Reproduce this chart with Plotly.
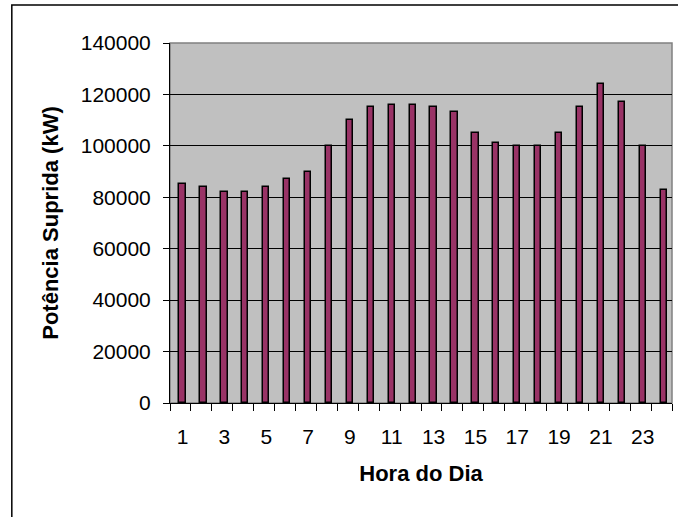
import plotly.graph_objects as go

horas = list(range(1, 25))
potencia = [85000, 84000, 82000, 82000, 84000, 87000, 90000, 100000,
            110000, 115000, 116000, 116000, 115000, 113000, 105000, 101000,
            100000, 100000, 105000, 115000, 124000, 117000, 100000, 83000]
x_tick_labels = [str(h) for h in range(1, 24, 2)]
y_ticks = list(range(0, 140001, 20000))

W, H = 678, 517
L, R, T, B = 169.5, 5.5, 43, 114
pw, ph = W - L - R, H - T - B
shift = 0.1  # Excel draws bars/labels slightly right of the category centre

fig = go.Figure()
fig.add_trace(go.Bar(
    x=horas, y=potencia, width=0.3, offset=-0.15 + shift,
    marker=dict(color="#993366", line=dict(color="#000000", width=1.5)),
))

font = dict(family="Liberation Sans, Arial, sans-serif", size=21, color="#000000")

fig.update_layout(
    width=W, height=H,
    margin=dict(l=L, r=R, t=T, b=B, pad=0, autoexpand=False),
    paper_bgcolor="#FFFFFF", plot_bgcolor="#C0C0C0",
    font=font, showlegend=False, bargap=0,
    xaxis=dict(
        range=[0.5, 24.5], tickmode="array",
        tickvals=[int(v) + shift for v in x_tick_labels], ticktext=x_tick_labels,
        ticks="", showgrid=False, showline=True, linecolor="#000000", linewidth=1,
        zeroline=False, ticklabelstandoff=15, automargin=False,
        minor=dict(tick0=0.5, dtick=1, ticks="outside", ticklen=7, tickcolor="#000000", tickwidth=1, showgrid=False),
        title=dict(text="<b>Hora do Dia</b>", font=dict(size=22), standoff=18),
        fixedrange=True,
    ),
    yaxis=dict(
        range=[0, 140000], tickmode="array", tickvals=y_ticks,
        tickformat="d", ticks="outside", ticklen=6, tickcolor="#000000",
        showgrid=True, gridcolor="#000000", gridwidth=1,
        showline=True, linecolor="#000000", linewidth=1, zeroline=False,
        ticklabelstandoff=8, automargin=False,
        title=dict(text="<b>Potência Suprida (kW)</b>", font=dict(size=22), standoff=16),
        fixedrange=True,
    ),
)

# plot-area outline (gray) and outer chart frame
fig.add_shape(type="rect", xref="paper", yref="paper", x0=0, x1=1, y0=0, y1=1,
              line=dict(color="#808080", width=1.5), layer="below")
fig.add_shape(type="rect", xref="paper", yref="paper",
              x0=(11 - L) / pw, x1=1.2, y0=-0.6, y1=(H - B - 5) / ph,
              line=dict(color="#000000", width=1.5))

fig.write_html("out.html", config={"displayModeBar": False},
               post_script="document.body.style.margin='0';")
